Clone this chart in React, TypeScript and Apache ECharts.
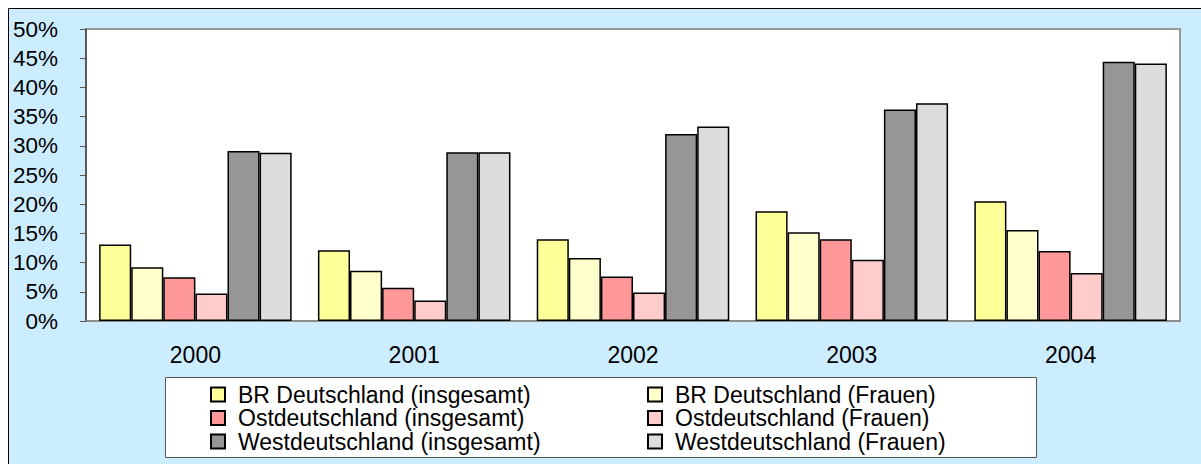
import React, { useEffect, useRef } from "react";
import * as echarts from "echarts";

const years = ["2000", "2001", "2002", "2003", "2004"];
const seriesNames = [
  "BR Deutschland (insgesamt)",
  "BR Deutschland (Frauen)",
  "Ostdeutschland (insgesamt)",
  "Ostdeutschland (Frauen)",
  "Westdeutschland (insgesamt)",
  "Westdeutschland (Frauen)",
];
const brInsgesamt = [13.1, 12.1, 14.0, 18.8, 20.5];
const brFrauen = [9.2, 8.6, 10.8, 15.2, 15.6];
const ostInsgesamt = [7.5, 5.7, 7.6, 14.0, 12.0];
const ostFrauen = [4.7, 3.5, 4.9, 10.5, 8.2];
const westInsgesamt = [29.1, 28.9, 32.0, 36.2, 44.4];
const westFrauen = [28.8, 28.9, 33.3, 37.3, 44.1];
const seriesValues = [brInsgesamt, brFrauen, ostInsgesamt, ostFrauen, westInsgesamt, westFrauen];
const colors = ["#FFFF99", "#FFFFCC", "#FF9999", "#FFCCCC", "#969696", "#DDDDDD"];

const FONT = "Liberation Sans, Arial, sans-serif";

export default function App() {
  const ref = useRef<HTMLDivElement>(null);
  useEffect(() => {
    document.body.style.margin = "0";
    document.body.style.overflow = "hidden";
    const chart = echarts.init(ref.current!, null, { renderer: "svg" });
    const legendText = {
      fontSize: 23,
      color: "#000",
      fontFamily: FONT,
      lineHeight: 23,
      padding: [0, 0, 0, 8],
    };
    const legendCommon = {
      orient: "vertical",
      top: 383,
      itemWidth: 14,
      itemHeight: 14,
      itemGap: 0.5,
      icon: "rect",
      padding: 0,
      textStyle: legendText,
    };
    chart.setOption({
      animation: false,
      backgroundColor: "#ffffff",
      graphic: [
        {
          type: "rect",
          z: -10,
          silent: true,
          shape: { x: 8.5, y: 8.5, width: 1250, height: 500 },
          style: { fill: "#CCECFF", stroke: "#000", lineWidth: 1 },
        },
        {
          type: "rect",
          z: 1,
          silent: true,
          shape: { x: 165.5, y: 377.5, width: 871, height: 80 },
          style: { fill: "#fff", stroke: "#555", lineWidth: 1 },
        },
      ],
      grid: {
        left: 86,
        right: 21,
        top: 29,
        bottom: 143,
        show: true,
        backgroundColor: "#fff",
        borderColor: "#999",
        borderWidth: 2,
      },
      legend: [
        {
          ...legendCommon,
          left: 210,
          data: [seriesNames[0], seriesNames[2], seriesNames[4]],
        },
        {
          ...legendCommon,
          left: 647,
          data: [seriesNames[1], seriesNames[3], seriesNames[5]],
        },
      ],
      xAxis: {
        type: "category",
        data: years,
        axisLine: { lineStyle: { color: "#888", width: 1.5 } },
        axisTick: { length: 7, lineStyle: { color: "#555" } },
        axisLabel: { fontSize: 23, color: "#000", fontFamily: FONT, margin: 22 },
      },
      yAxis: {
        type: "value",
        min: 0,
        max: 50,
        interval: 5,
        axisLine: { show: true, lineStyle: { color: "#444", width: 1.5 } },
        axisTick: { show: true, length: 6, lineStyle: { color: "#555" } },
        splitLine: { show: false },
        axisLabel: { formatter: "{value}%", fontSize: 22.5, color: "#000", fontFamily: FONT, margin: 28 },
      },
      series: seriesNames.map((name, i) => ({
        name,
        type: "bar",
        data: seriesValues[i],
        barGap: "0%",
        barCategoryGap: "12%",
        itemStyle: { color: colors[i], borderColor: "#000", borderWidth: 1.5 },
      })),
    });
    return () => chart.dispose();
  }, []);
  return <div ref={ref} style={{ width: 1201, height: 464 }} />;
}
